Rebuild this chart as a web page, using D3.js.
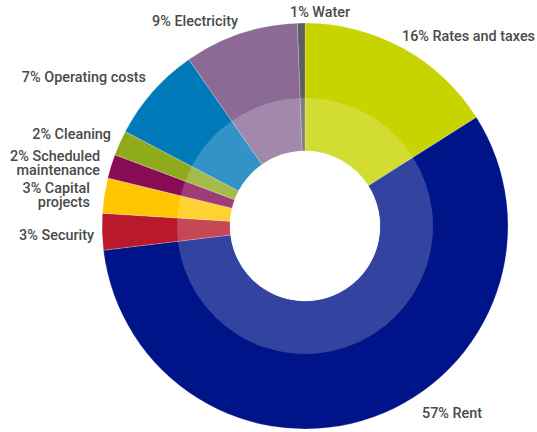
<!DOCTYPE html>
<html>
<head>
<meta charset="utf-8">
<script src="https://cdn.jsdelivr.net/npm/d3@7"></script>
<style>
  html, body { margin: 0; padding: 0; background: #fff; }
  svg { display: block; }
  text { font-family: Roboto, "Open Sans", sans-serif; font-weight: 500; fill: #4a4a4a; }
</style>
</head>
<body>
<script>
// Data (clockwise from 12 o'clock)
const categories = ["Rates and taxes", "Rent", "Security", "Capital projects",
  "Scheduled maintenance", "Cleaning", "Operating costs", "Electricity", "Water"];
const values = [16.0, 57.1, 2.9, 2.8, 1.9, 2.0, 7.6, 9.1, 0.6];
const percentLabels = ["16%", "57%", "3%", "3%", "2%", "2%", "7%", "9%", "1%"];
const labelLines = [
  ["16% Rates and taxes"], ["57% Rent"], ["3% Security"], ["3% Capital", "projects"],
  ["2% Scheduled", "maintenance"], ["2% Cleaning"], ["7% Operating costs"],
  ["9% Electricity"], ["1% Water"]
];
const colors = ["#c8d400", "#001489", "#b8192b", "#ffc600", "#870c55",
  "#8fab1c", "#0079b8", "#8b6b96", "#5e5e5e"];

// Layout (not data)
const W = 537, H = 432;
const cx = 305, cy = 226;
const rOuter = 203, rBand = 128, rHole = 75;
const labelLayout = [
  {x: 535, y: 41, anchor: "end"},
  {x: 422, y: 418, anchor: "start"},
  {x: 94, y: 240, anchor: "end"},
  {x: 90, y: 193, anchor: "end"},
  {x: 100, y: 161, anchor: "end"},
  {x: 111, y: 139, anchor: "end"},
  {x: 146, y: 82, anchor: "end"},
  {x: 238, y: 26, anchor: "end"},
  {x: 290, y: 17, anchor: "start"}
];

const svg = d3.select("body").append("svg").attr("width", W).attr("height", H);
const g = svg.append("g").attr("transform", `translate(${cx},${cy})`);

const pie = d3.pie().sort(null).value(d => d.value);
const data = categories.map((c, i) => ({name: c, value: values[i], color: colors[i], i}));
const arcs = pie(data);

const outerArc = d3.arc().innerRadius(rHole).outerRadius(rOuter);
const bandArc = d3.arc().innerRadius(rHole).outerRadius(rBand);

g.selectAll("path.outer").data(arcs).join("path")
  .attr("class", "outer")
  .attr("d", outerArc)
  .attr("fill", d => d.data.color)
  .attr("stroke", "rgba(255,255,255,0.35)")
  .attr("stroke-width", 0.6);

g.selectAll("path.band").data(arcs).join("path")
  .attr("class", "band")
  .attr("d", bandArc)
  .attr("fill", "#ffffff")
  .attr("fill-opacity", 0.2);

g.append("circle").attr("r", rHole).attr("fill", "#fff");

// One text element per line
const lineData = [];
data.forEach(d => {
  labelLines[d.i].forEach((line, k) => {
    lineData.push({text: line, i: d.i, k});
  });
});

svg.selectAll("text.lbl").data(lineData).join("text")
  .attr("class", "lbl")
  .attr("x", d => labelLayout[d.i].x)
  .attr("y", d => labelLayout[d.i].y + d.k * 13.5)
  .attr("text-anchor", d => labelLayout[d.i].anchor)
  .style("font-size", "14.4px")
  .text(d => d.text);
</script>
</body>
</html>
